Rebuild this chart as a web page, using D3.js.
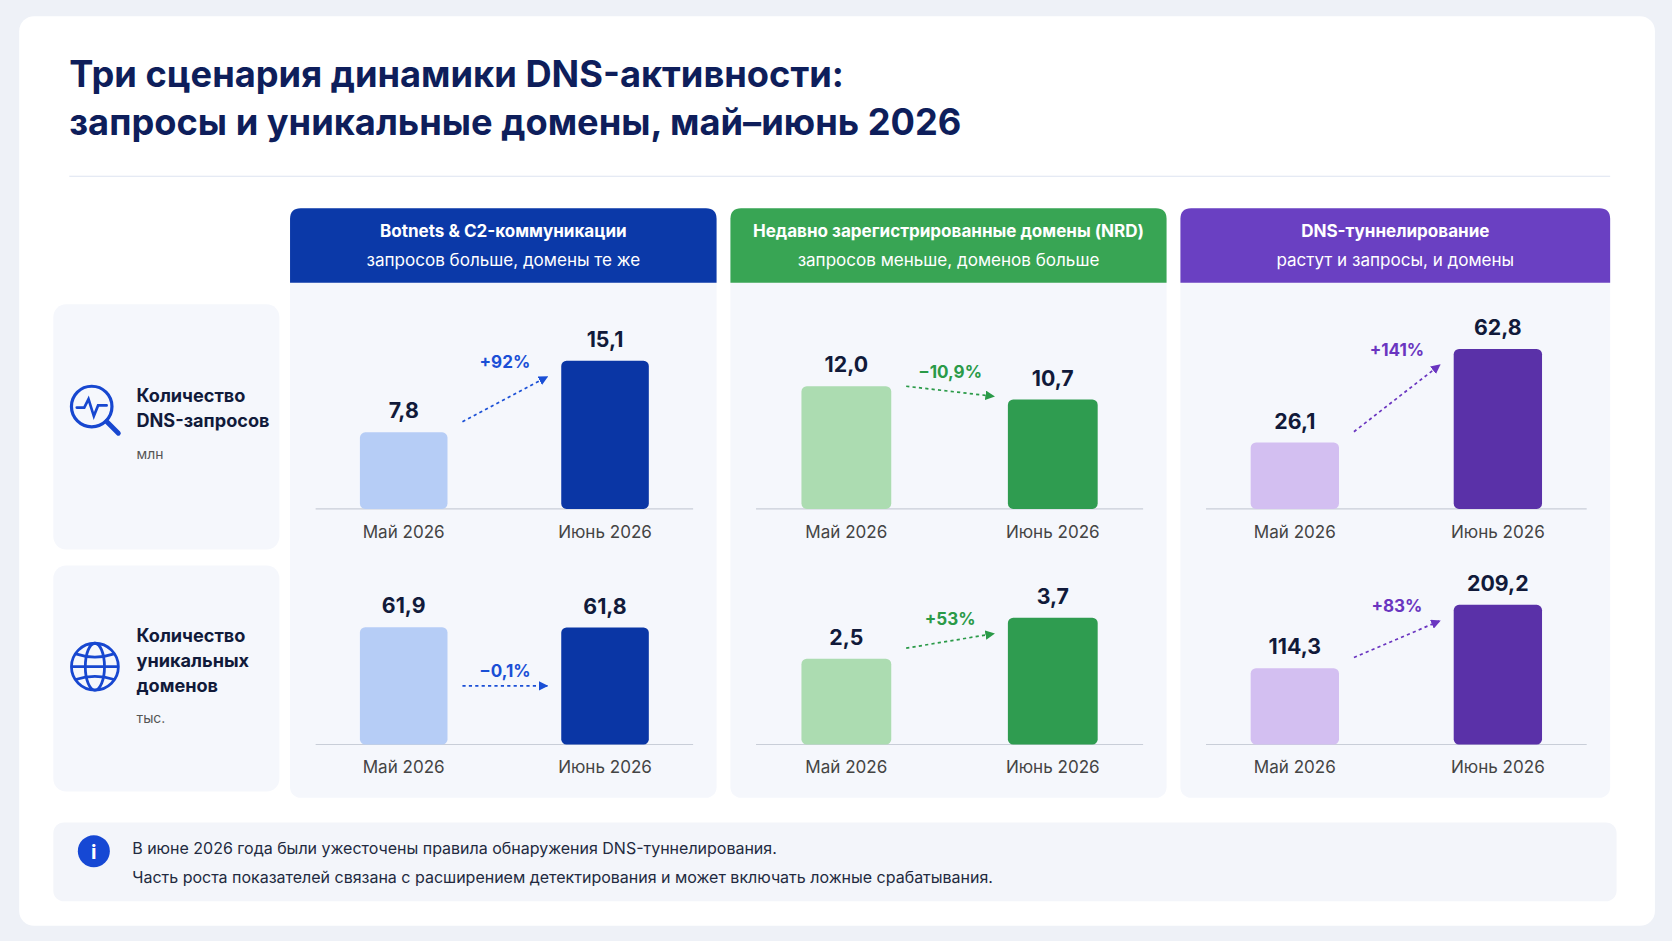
<!DOCTYPE html>
<html lang="ru">
<head>
<meta charset="UTF-8">
<title>DNS</title>
<script src="https://cdn.jsdelivr.net/npm/d3@7"></script>
<style>
  body { margin: 0; background: #eef1f7; }
  svg { display: block; font-family: Inter, "Noto Sans", sans-serif; }
</style>
</head>
<body>
<svg></svg>
<script>
    // data
    var months = ["Май 2026", "Июнь 2026"]
    var scenarioTitles = ["Botnets & C2-коммуникации", "Недавно зарегистрированные домены (NRD)", "DNS-туннелирование"]
    var scenarioSubtitles = ["запросов больше, домены те же", "запросов меньше, доменов больше", "растут и запросы, и домены"]
    var queries = [[7.8, 15.1], [12.0, 10.7], [26.1, 62.8]]      // млн
    var domains = [[61.9, 61.8], [2.5, 3.7], [114.3, 209.2]]     // тыс.
    var queryChange = ["+92%", "−10,9%", "+141%"]
    var domainChange = ["−0,1%", "+53%", "+83%"]
    var notes = ["В июне 2026 года были ужесточены правила обнаружения DNS-туннелирования.",
                 "Часть роста показателей связана с расширением детектирования и может включать ложные срабатывания."]

    var headColor = ["#0b39a8", "#38a554", "#6a40c2"]
    var lightColor = ["#b6cdf6", "#acdcb1", "#d3bff1"]
    var darkColor = ["#0a36a5", "#2f9c50", "#5a31a8"]
    var pctColor = ["#1a4fd6", "#2a9a48", "#6a35c0"]
    var panels = [[272, 672], [685, 1094], [1107, 1510]]
    var rowBase = [477, 698]
    var rowMaxH = [[139, 115, 150], [110, 119, 131]]

    var svg = d3.select("svg")
                .attr("width", 1672)
                .attr("height", 941)
                .attr("viewBox", "0 0 1568 882")

    svg.append("rect").attr("x", 18).attr("y", 15).attr("width", 1534).attr("height", 853)
        .attr("rx", 14).attr("fill", "#fff")

    svg.append("text").attr("x", 65).attr("y", 81).text("Три сценария динамики DNS-активности:")
        .attr("font-size", 34).attr("font-weight", 700).attr("fill", "#0e1e5b")
    svg.append("text").attr("x", 65).attr("y", 126).text("запросы и уникальные домены, май–июнь 2026")
        .attr("font-size", 34).attr("font-weight", 700).attr("fill", "#0e1e5b")
    svg.append("line").attr("x1", 65).attr("x2", 1510).attr("y1", 165).attr("y2", 165)
        .attr("stroke", "#dde3f0")

    // left labels
    svg.append("rect").attr("x", 50).attr("y", 285).attr("width", 212).attr("height", 230).attr("rx", 12).attr("fill", "#f5f7fc")
    svg.append("rect").attr("x", 50).attr("y", 530).attr("width", 212).attr("height", 212).attr("rx", 12).attr("fill", "#f5f7fc")

    var ic = svg.append("g").attr("stroke", "#1747d0").attr("fill", "none").attr("stroke-width", 3).attr("stroke-linecap", "round")
    ic.append("circle").attr("cx", 86).attr("cy", 381).attr("r", 19)
    ic.append("line").attr("x1", 100).attr("y1", 395).attr("x2", 111).attr("y2", 406).attr("stroke-width", 4.5)
    ic.append("path").attr("d", "M72,382 H79 L83,374 L88,390 L92,380 H100").attr("stroke-width", 2.5)

    var gl = svg.append("g").attr("stroke", "#1747d0").attr("fill", "none").attr("stroke-width", 2.6)
    gl.append("circle").attr("cx", 89).attr("cy", 625).attr("r", 22)
    gl.append("ellipse").attr("cx", 89).attr("cy", 625).attr("rx", 9).attr("ry", 22)
    gl.append("line").attr("x1", 67).attr("x2", 111).attr("y1", 625).attr("y2", 625)
    gl.append("path").attr("d", "M71,613 Q89,619 107,613 M71,637 Q89,631 107,637")

    var lab = [["Количество", 377], ["DNS-запросов", 400], ["Количество", 602], ["уникальных", 625], ["доменов", 649]]
    lab.forEach(function(d) {
        svg.append("text").attr("x", 128).attr("y", d[1]).text(d[0])
            .attr("font-size", 17).attr("font-weight", 700).attr("fill", "#111a3a")
    })
    svg.append("text").attr("x", 128).attr("y", 430).text("млн").attr("font-size", 13).attr("fill", "#555")
    svg.append("text").attr("x", 128).attr("y", 678).text("тыс.").attr("font-size", 13).attr("fill", "#555")

    var defs = svg.append("defs")
    pctColor.forEach(function(c, i) {
        defs.append("marker").attr("id", "ar" + i).attr("viewBox", "0 0 10 10").attr("refX", 9).attr("refY", 5)
            .attr("markerWidth", 9).attr("markerHeight", 9).attr("orient", "auto-start-reverse")
            .attr("markerUnits", "userSpaceOnUse")
            .append("path").attr("d", "M0,0 L10,5 L0,10 z").attr("fill", c)
    })

    panels.forEach(function(p, i) {
        var w = p[1] - p[0]
        svg.append("rect").attr("x", p[0]).attr("y", 195).attr("width", w).attr("height", 553).attr("rx", 10).attr("fill", "#f5f7fc")
        svg.append("path").attr("d", "M" + p[0] + ",265 V205 Q" + p[0] + ",195 " + (p[0] + 10) + ",195 H" + (p[1] - 10) +
            " Q" + p[1] + ",195 " + p[1] + ",205 V265 Z").attr("fill", headColor[i])
        svg.append("text").attr("x", p[0] + w / 2).attr("y", 222).attr("text-anchor", "middle").text(scenarioTitles[i])
            .attr("font-size", 16).attr("font-weight", 700).attr("fill", "#fff")
        svg.append("text").attr("x", p[0] + w / 2).attr("y", 249).attr("text-anchor", "middle").text(scenarioSubtitles[i])
            .attr("font-size", 16).attr("fill", "#fff")

        var x = d3.scaleBand().domain(months).range([p[0] + 24, p[1] - 22]).paddingInner(0.565).paddingOuter(0.22)

        ;[queries[i], domains[i]].forEach(function(vals, r) {
            var base = rowBase[r]
            var y = d3.scaleLinear().domain([0, d3.max(vals)]).range([base, base - rowMaxH[r][i]])
            var g = svg.append("g")
            g.append("line").attr("x1", p[0] + 24).attr("x2", p[1] - 22).attr("y1", base).attr("y2", base).attr("stroke", "#c9ced8")
            g.selectAll("rect").data(vals).join("rect")
                .attr("x", (d, j) => x(months[j])).attr("width", x.bandwidth())
                .attr("y", d => y(d)).attr("height", d => base - y(d))
                .attr("rx", 5).attr("fill", (d, j) => j ? darkColor[i] : lightColor[i])
            g.selectAll(".v").data(vals).join("text")
                .attr("x", (d, j) => x(months[j]) + x.bandwidth() / 2).attr("y", d => y(d) - 13)
                .attr("text-anchor", "middle").attr("font-size", 20).attr("font-weight", 700).attr("fill", "#111a3a")
                .text(d => d3.format(".1f")(d).replace(".", ","))
            g.selectAll(".m").data(months).join("text")
                .attr("x", d => x(d) + x.bandwidth() / 2).attr("y", base + 27)
                .attr("text-anchor", "middle").attr("font-size", 16).attr("fill", "#444").text(d => d)

            // arrow
            var t0 = y(vals[0]), t1 = y(vals[1])
            var x0 = x(months[0]) + x.bandwidth() + 14, x1 = x(months[1]) - 13
            var y0, y1
            if (Math.abs(t0 - t1) < 3) { y0 = y1 = t0 + 55 }
            else if (t0 > t1) { y0 = t0 - 10; y1 = t1 + 15 }
            else { y0 = t0; y1 = t1 - 3 }
            g.append("line").attr("x1", x0).attr("y1", y0).attr("x2", x1).attr("y2", y1)
                .attr("stroke", pctColor[i]).attr("stroke-width", 1.6).attr("stroke-dasharray", "3,3")
                .attr("marker-end", "url(#ar" + i + ")")
            g.append("text").attr("x", (x0 + x1) / 2).attr("y", Math.min(y0, y1) - 8)
                .attr("text-anchor", "middle").attr("font-size", 16).attr("font-weight", 700).attr("fill", pctColor[i])
                .text(r ? domainChange[i] : queryChange[i])
        })
    })

    // note
    svg.append("rect").attr("x", 50).attr("y", 771).attr("width", 1466).attr("height", 74).attr("rx", 10).attr("fill", "#f3f5fa")
    svg.append("circle").attr("cx", 88).attr("cy", 798).attr("r", 15).attr("fill", "#1648d4")
    svg.append("text").attr("x", 88).attr("y", 805).attr("text-anchor", "middle").text("i")
        .attr("font-size", 19).attr("font-weight", 700).attr("fill", "#fff")
    notes.forEach(function(n, k) {
        svg.append("text").attr("x", 124).attr("y", 801 + k * 27).text(n).attr("font-size", 15).attr("fill", "#222a40")
    })
</script>
</body>
</html>
